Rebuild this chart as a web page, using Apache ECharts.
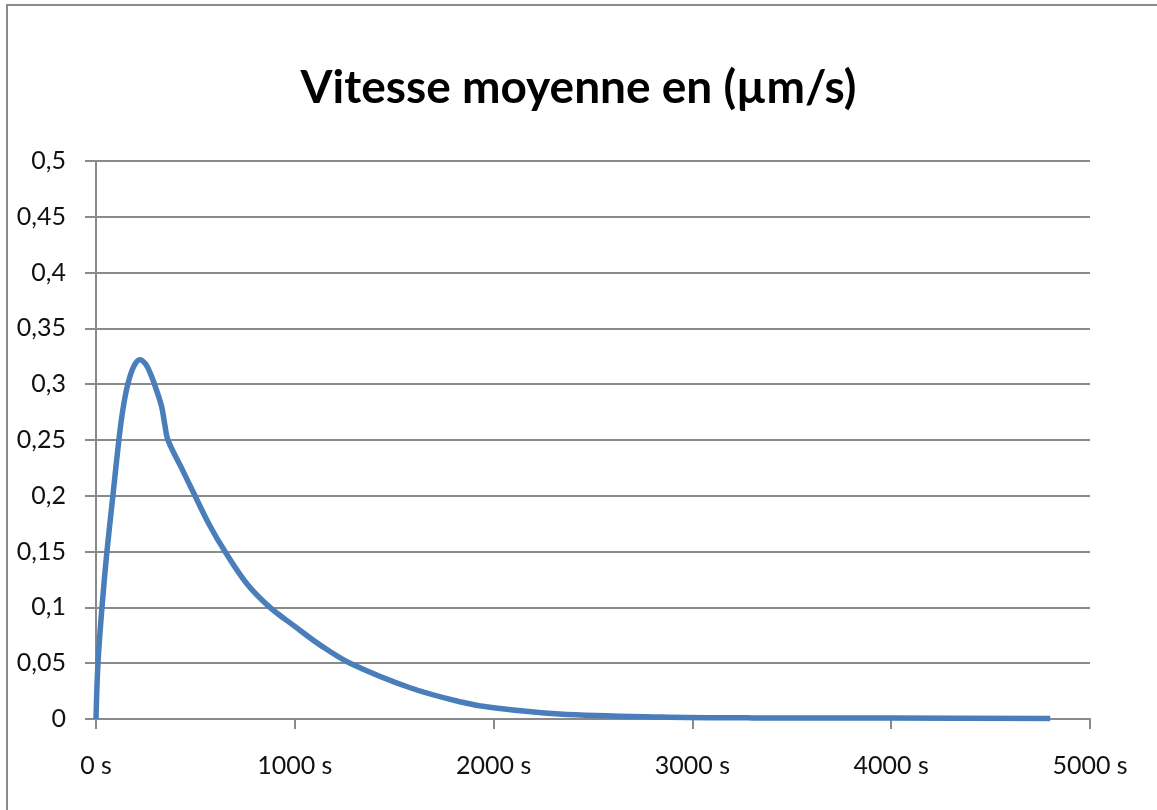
<!DOCTYPE html>
<html>
<head>
<meta charset="utf-8">
<script src="https://cdn.jsdelivr.net/npm/echarts@6/dist/echarts.min.js"></script>
<style>
html,body{margin:0;padding:0;background:#fff;}
#c{width:1157px;height:810px;}
</style>
</head>
<body>
<div id="c"></div>
<script>
var titleText = 'Vitesse moyenne en (µm/s)';
var times = [0, 10, 30, 55, 85, 115, 135, 160, 190, 221, 250, 275, 300, 330, 345, 362, 430, 498, 570, 649, 760, 875, 1000, 1130, 1278, 1580, 1830, 2000, 2330, 2840, 3300, 4000, 4800];
var speeds = [0, 0.05, 0.1, 0.15, 0.2, 0.25, 0.277, 0.3, 0.316, 0.322, 0.318, 0.309, 0.297, 0.28, 0.265, 0.25, 0.225, 0.2, 0.174, 0.15, 0.121, 0.1, 0.083, 0.066, 0.05, 0.028, 0.0155, 0.01, 0.0045, 0.0018, 0.001, 0.0008, 0.0005];
var xTickSuffix = ' s';

var pts = times.map(function (t, i) { return [t, speeds[i]]; });
var font = 'Lato, "Open Sans", sans-serif';
var chart = echarts.init(document.getElementById('c'));
chart.setOption({
  animation: false,
  backgroundColor: '#fff',
  title: {
    text: titleText,
    left: 'center',
    top: 60,
    textStyle: { fontFamily: font, fontWeight: 'bold', fontSize: 46, color: '#000' }
  },
  graphic: [{
    type: 'rect', shape: { x: 7, y: 5, width: 1300, height: 1000 },
    style: { fill: 'none', stroke: '#8a8a8a', lineWidth: 2 }, silent: true
  }],
  grid: { left: 96, right: 67, top: 161, bottom: 91, containLabel: false },
  xAxis: {
    type: 'value', min: 0, max: 5000, interval: 1000,
    axisLine: { show: true, lineStyle: { color: '#8a8a8a', width: 2 } },
    axisTick: { show: true, length: 10, lineStyle: { color: '#8a8a8a', width: 2 } },
    splitLine: { show: false },
    axisLabel: {
      margin: 34, color: '#111', fontFamily: font, fontSize: 25,
      formatter: function (v) { return v + xTickSuffix; }
    }
  },
  yAxis: {
    type: 'value', min: 0, max: 0.5, interval: 0.05,
    axisLine: { show: true, lineStyle: { color: '#8a8a8a', width: 2 } },
    axisTick: { show: true, length: 11, lineStyle: { color: '#8a8a8a', width: 2 } },
    splitLine: { show: true, lineStyle: { color: '#8a8a8a', width: 2 } },
    axisLabel: {
      margin: 30, color: '#111', fontFamily: font, fontSize: 25,
      formatter: function (v) { return String(+v.toFixed(2)).replace('.', ','); }
    }
  },
  series: [{
    type: 'line', data: pts, smooth: 0.35, showSymbol: false,
    lineStyle: { color: '#4a7ebb', width: 5.5 }, z: 5
  }]
});
</script>
</body>
</html>
